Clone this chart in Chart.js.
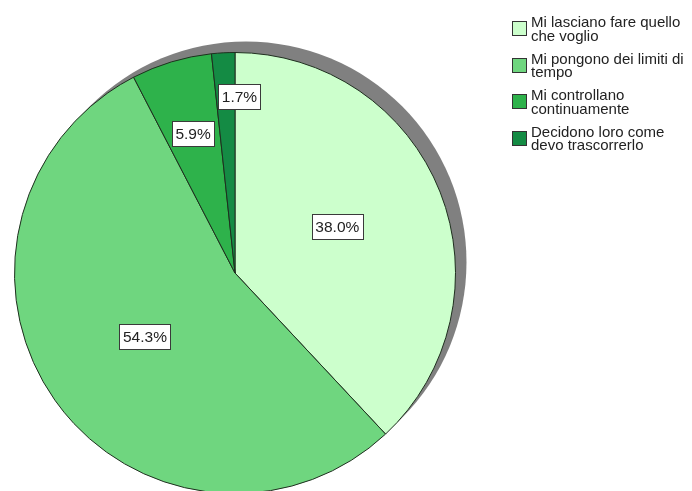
<!DOCTYPE html>
<html>
<head>
<meta charset="utf-8">
<script src="https://cdn.jsdelivr.net/npm/chart.js@4/dist/chart.umd.min.js"></script>
<style>
  html, body { margin: 0; padding: 0; background: #fff; overflow: hidden; width: 692px; height: 491px; }
  #wrap { position: absolute; left: 0; top: 0; width: 692px; height: 520px; }
  #legend { position: absolute; left: 512px; top: 15px; font-family: "Liberation Sans", Arial, sans-serif; font-size: 15px; color: #222; }
  .item { position: relative; height: 36.5px; padding-left: 19px; line-height: 13.5px; }
  .box { position: absolute; left: 0; top: 6px; width: 13px; height: 13px; border: 1px solid #333; }
</style>
</head>
<body>
<div id="wrap"><canvas id="myPieChart" width="692" height="520"></canvas></div>
<div id="legend"></div>
<script>
// risposte
const categories = [
    "Mi lasciano fare quello\nche voglio",
    "Mi pongono dei limiti di\ntempo",
    "Mi controllano\ncontinuamente",
    "Decidono loro come\ndevo trascorrerlo",
];
const percentages = [38.0, 54.3, 5.9, 1.7];
const sliceColors = ["#ccffcc", "#6fd67f", "#2eb24b", "#148b44"];
const labelTexts = ["38.0%", "54.3%", "5.9%", "1.7%"];

// posizione delle etichette (frazione del raggio, spostamento in gradi)
const labelRadius = [0.51, 0.5, 0.66, 0.8];
const labelShift = [-3, 0, 0, 4.5];

const shadowPlugin = {
    id: "shadow",
    beforeDatasetsDraw(chart) {
        const arc = chart.getDatasetMeta(0).data[0];
        if (!arc) return;
        const ctx = chart.ctx;
        ctx.save();
        ctx.fillStyle = "#808080";
        ctx.beginPath();
        ctx.arc(arc.x + 11, arc.y - 11, arc.outerRadius, 0, Math.PI * 2);
        ctx.fill();
        ctx.restore();
    },
};

const labelPlugin = {
    id: "pctLabels",
    afterDatasetsDraw(chart) {
        const ctx = chart.ctx;
        ctx.save();
        ctx.font = '15.5px "Liberation Sans", Arial, sans-serif';
        ctx.textAlign = "center";
        ctx.textBaseline = "middle";
        chart.getDatasetMeta(0).data.forEach((arc, i) => {
            const mid = (arc.startAngle + arc.endAngle) / 2 + labelShift[i] * Math.PI / 180;
            const r = arc.outerRadius * labelRadius[i];
            const x = arc.x + Math.cos(mid) * r;
            const y = arc.y + Math.sin(mid) * r;
            const w = Math.round(ctx.measureText(labelTexts[i]).width + 7);
            const h = 25;
            const bx = Math.round(x - w / 2) + 0.5;
            const by = Math.round(y - h / 2) + 0.5;
            ctx.fillStyle = "#ffffff";
            ctx.fillRect(bx, by, w, h);
            ctx.strokeStyle = "#3a3a3a";
            ctx.lineWidth = 1;
            ctx.strokeRect(bx, by, w, h);
            ctx.fillStyle = "#222";
            ctx.fillText(labelTexts[i], x, y + 1);
        });
        ctx.restore();
    },
};

const ctx = document.getElementById("myPieChart").getContext("2d");
window.myPieChart = new Chart(ctx, {
    type: "pie",
    data: {
        labels: categories,
        datasets: [
            {
                data: percentages,
                backgroundColor: sliceColors,
                borderColor: "#1f2f1f",
                borderWidth: 1,
            },
        ],
    },
    options: {
        responsive: false,
        animation: false,
        layout: { padding: { left: 14, top: 52, right: 236, bottom: 26 } },
        plugins: {
            legend: { display: false },
            tooltip: { enabled: false },
        },
    },
    plugins: [shadowPlugin, labelPlugin],
});

// legenda
const legend = document.getElementById("legend");
categories.forEach((cat, i) => {
    const item = document.createElement("div");
    item.className = "item";
    const box = document.createElement("div");
    box.className = "box";
    box.style.background = sliceColors[i];
    item.appendChild(box);
    cat.split("\n").forEach((line) => {
        const d = document.createElement("div");
        d.textContent = line;
        item.appendChild(d);
    });
    legend.appendChild(item);
});
</script>
</body>
</html>
